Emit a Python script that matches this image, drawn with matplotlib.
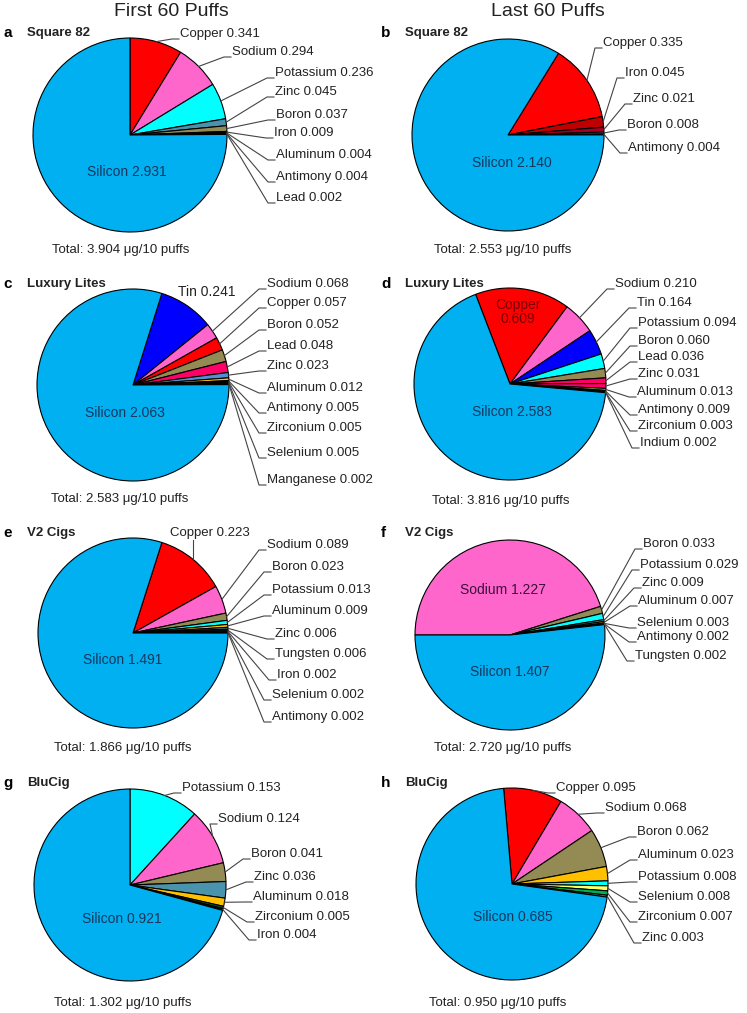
import numpy as np
import matplotlib
matplotlib.use("Agg")
import matplotlib.pyplot as plt

plt.rcParams["font.family"] = ["Liberation Sans", "DejaVu Sans"]

W, H = 747, 1013

# ---- data (values in ug / 10 puffs) ----
a_elements = ["Copper", "Sodium", "Potassium", "Zinc", "Boron", "Iron", "Aluminum", "Antimony", "Lead", "Silicon"]
a_values = [0.341, 0.294, 0.236, 0.045, 0.037, 0.009, 0.004, 0.004, 0.002, 2.931]
a_total = 3.904

b_elements = ["Copper", "Iron", "Zinc", "Boron", "Antimony", "Silicon"]
b_values = [0.335, 0.045, 0.021, 0.008, 0.004, 2.140]
b_total = 2.553

c_elements = ["Tin", "Sodium", "Copper", "Boron", "Lead", "Zinc", "Aluminum", "Antimony", "Zirconium",
              "Selenium", "Manganese", "Silicon"]
c_values = [0.241, 0.068, 0.057, 0.052, 0.048, 0.023, 0.012, 0.005, 0.005, 0.005, 0.002, 2.063]
c_total = 2.583

d_elements = ["Copper", "Sodium", "Tin", "Potassium", "Boron", "Lead", "Zinc", "Aluminum", "Antimony",
              "Zirconium", "Indium", "Silicon"]
d_values = [0.609, 0.210, 0.164, 0.094, 0.060, 0.036, 0.031, 0.013, 0.009, 0.003, 0.002, 2.583]
d_total = 3.816

e_elements = ["Copper", "Sodium", "Boron", "Potassium", "Aluminum", "Zinc", "Tungsten", "Iron", "Selenium",
              "Antimony", "Silicon"]
e_values = [0.223, 0.089, 0.023, 0.013, 0.009, 0.006, 0.006, 0.002, 0.002, 0.002, 1.491]
e_total = 1.866

f_elements = ["Sodium", "Boron", "Potassium", "Zinc", "Aluminum", "Selenium", "Antimony", "Tungsten", "Silicon"]
f_values = [1.227, 0.033, 0.029, 0.009, 0.007, 0.003, 0.002, 0.002, 1.407]
f_total = 2.720

g_elements = ["Potassium", "Sodium", "Boron", "Zinc", "Aluminum", "Zirconium", "Iron", "Silicon"]
g_values = [0.153, 0.124, 0.041, 0.036, 0.018, 0.005, 0.004, 0.921]
g_total = 1.302

h_elements = ["Copper", "Sodium", "Boron", "Aluminum", "Potassium", "Selenium", "Zirconium", "Zinc", "Silicon"]
h_values = [0.095, 0.068, 0.062, 0.023, 0.008, 0.008, 0.007, 0.003, 0.685]
h_total = 0.950

column_titles = ["First 60 Puffs", "Last 60 Puffs"]
brands = ["Square 82", "Square 82", "Luxury Lites", "Luxury Lites", "V2 Cigs", "V2 Cigs", "BluCig", "BluCig"]
letters = ["a", "b", "c", "d", "e", "f", "g", "h"]

# ---- styling ----
element_colors = {
    "Silicon": "#00B0F0", "Copper": "#FF0000", "Sodium": "#FF66CC", "Potassium": "#00FFFF",
    "Zinc": "#4A93AD", "Boron": "#948A54", "Iron": "#111111", "Aluminum": "#FFC000",
    "Antimony": "#222222", "Lead": "#FF0066", "Tin": "#0000FF", "Zirconium": "#00602B",
    "Selenium": "#FFFF66", "Manganese": "#111111", "Tungsten": "#111111", "Indium": "#111111",
}
color_overrides = {
    "b": {"Iron": "#C00000", "Zinc": "#A50021", "Boron": "#8E7CC3"},
    "c": {"Zinc": "#558ED5"},
    "d": {"Zinc": "#FF0066", "Aluminum": "#92D050"},
    "h": {"Zirconium": "#00B050"},
}

# pie centre (px), radius (px), start angle of first wedge (deg, clockwise order)
layout = {
    "a": dict(center=(130, 135), r=97, start=90),
    "b": dict(center=(508, 135), r=96, start=58.3),
    "c": dict(center=(133, 385), r=96, start=72.5),
    "d": dict(center=(510, 384), r=96, start=111),
    "e": dict(center=(133, 633), r=95, start=72.3),
    "f": dict(center=(510, 635), r=95, start=180),
    "g": dict(center=(130, 885), r=96, start=90),
    "h": dict(center=(512, 884), r=96, start=95),
}

# callout text positions (left x, centre y) in px; None = label drawn without leader
label_xy = {
    "a": [(180, 34), (232, 52), (275, 73), (275, 92), (276, 115), (274, 133), (276, 155), (276, 177), (276, 198)],
    "b": [(603, 43), (625, 73), (633, 99), (627, 125), (628, 148)],
    "c": [None, (267, 284), (267, 303), (267, 325), (267, 346), (267, 366), (267, 388), (267, 408),
          (267, 428), (267, 453), (267, 480)],
    "d": [None, (615, 284), (637, 303), (638, 323), (638, 341), (638, 357), (638, 374), (637, 392),
          (638, 410), (638, 426), (640, 443)],
    "e": [(170, 533), (267, 545), (272, 567), (272, 590), (272, 611), (275, 634), (275, 654), (277, 675),
          (272, 695), (272, 717)],
    "f": [None, (643, 544), (640, 565), (642, 583), (638, 601), (637, 623), (637, 637), (635, 656)],
    "g": [(182, 788), (218, 819), (251, 854), (254, 877), (253, 897), (255, 917), (257, 935)],
    "h": [(556, 788), (605, 808), (637, 832), (638, 855), (638, 877), (638, 897), (638, 917), (642, 938)],
}
free_labels = {  # labels drawn without a leader: (x, y, ha, color, two_lines)
    "c": {"Tin": (178, 292, "left", "#222222", False)},
    "d": {"Copper": (518, 312, "center", "#7A0000", True)},
    "f": {"Sodium": (503, 590, "center", "#3A103A", False)},
}
silicon_xy = {"a": (127, 172), "b": (512, 163), "c": (125, 413), "d": (512, 412),
              "e": (123, 660), "f": (510, 672), "g": (122, 919), "h": (513, 917)}
total_xy = {"a": (121, 250), "b": (503, 250), "c": (120, 499), "d": (501, 501),
            "e": (123, 748), "f": (503, 748), "g": (123, 1003), "h": (498, 1003)}
tag_xy = {"a": (3, 33), "b": (381, 33), "c": (3, 284), "d": (381, 284),
          "e": (3, 533), "f": (381, 533), "g": (3, 783), "h": (381, 783)}

panels = {
    "a": (a_elements, a_values, a_total), "b": (b_elements, b_values, b_total),
    "c": (c_elements, c_values, c_total), "d": (d_elements, d_values, d_total),
    "e": (e_elements, e_values, e_total), "f": (f_elements, f_values, f_total),
    "g": (g_elements, g_values, g_total), "h": (h_elements, h_values, h_total),
}

TXT = "#222222"
LINE = "#444444"
FS = 9.5

fig = plt.figure(figsize=(W / 100, H / 100), dpi=100)
ax = fig.add_axes([0, 0, 1, 1])


def Y(y):
    return H - y


for i, key in enumerate(letters):
    elements, values, total = panels[key]
    lay = layout[key]
    cx, cy = lay["center"][0], Y(lay["center"][1])
    r = lay["r"]
    cmap = dict(element_colors)
    cmap.update(color_overrides.get(key, {}))
    cols = [cmap[e] for e in elements]
    wedges, _ = ax.pie(values, colors=cols, startangle=lay["start"], counterclock=False,
                       radius=r, center=(cx, cy), frame=True,
                       wedgeprops=dict(edgecolor="black", linewidth=0.8))

    frees = free_labels.get(key, {})
    for j, el in enumerate(elements[:-1]):
        txt = f"{el} {values[j]:.3f}"
        if el in frees:
            fx, fy, ha, col, two = frees[el]
            if two:
                txt = f"{el}\n{values[j]:.3f}"
            ax.text(fx, Y(fy), txt, ha=ha, va="center", fontsize=FS + 0.5, color=col,
                    linespacing=1.0)
            continue
        tx, ty = label_xy[key][j]
        ty = Y(ty)
        w = wedges[j]
        mid = np.deg2rad((w.theta1 + w.theta2) / 2)
        axx, ayy = cx + r * np.cos(mid), cy + r * np.sin(mid)
        if axx > tx - 4:
            ax.plot([axx, axx], [ayy, ty - 7], color=LINE, lw=0.8)
        else:
            ax.plot([axx, tx - 8, tx - 1], [ayy, ty - 5, ty - 5], color=LINE, lw=0.8)
        ax.text(tx, ty, txt, ha="left", va="center", fontsize=FS, color=TXT)

    sx, sy = silicon_xy[key]
    ax.text(sx, Y(sy), f"Silicon {values[-1]:.3f}", ha="center", va="center",
            fontsize=FS + 0.5, color="#17375E")
    tx, ty = total_xy[key]
    ax.text(tx, Y(ty), f"Total: {total:.3f} \u03bcg/10 puffs", ha="center", va="center",
            fontsize=FS, color=TXT)
    gx, gy = tag_xy[key]
    ax.text(gx, Y(gy), key, ha="left", va="center", fontsize=11, fontweight="bold", color="black")
    ax.text(gx + 24, Y(gy), brands[i], ha="left", va="center", fontsize=FS, fontweight="bold",
            color=TXT)

ax.text(171, Y(11), column_titles[0], ha="center", va="center", fontsize=14, color=TXT)
ax.text(548, Y(11), column_titles[1], ha="center", va="center", fontsize=14, color=TXT)

ax.set_xlim(0, W)
ax.set_ylim(0, H)
ax.set_aspect("equal")
ax.axis("off")

fig.savefig("out.png", dpi=100)
